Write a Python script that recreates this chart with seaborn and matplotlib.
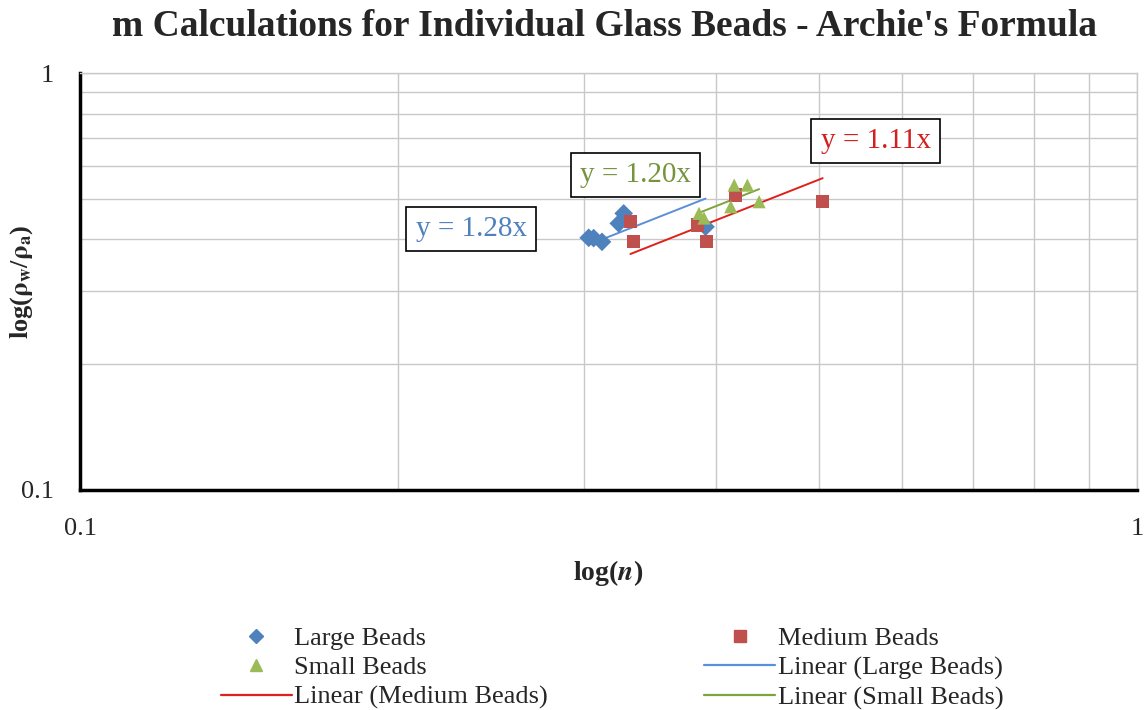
import numpy as np
import pandas as pd
import matplotlib
matplotlib.use("Agg")
import matplotlib.pyplot as plt
from matplotlib.lines import Line2D
import seaborn as sns

# data (log-log axes)
large_n = [0.3029, 0.3062, 0.3118, 0.3234, 0.3269, 0.3907]
large_r = [0.4027, 0.4020, 0.3938, 0.4360, 0.4608, 0.4279]
medium_n = [0.3317, 0.3341, 0.3837, 0.3914, 0.4173, 0.5043]
medium_r = [0.4398, 0.3938, 0.4320, 0.3938, 0.5099, 0.4915]
small_n = [0.3852, 0.3894, 0.4128, 0.4159, 0.4280, 0.4391]
small_r = [0.4608, 0.4491, 0.4780, 0.5387, 0.5387, 0.4915]

series = ["Large Beads", "Medium Beads", "Small Beads"]
slopes = [1.28, 1.11, 1.20]
point_colors = ["#4F81BD", "#C0504D", "#9BBB59"]
line_colors = ["#5B8FD6", "#E0201B", "#7FA33C"]
text_colors = ["#4F81BD", "#D21F1F", "#77933C"]
markers = ["D", "s", "^"]
# equation label centres (data coords)
eq_x = [0.2345, 0.5660, 0.3355]
eq_y = [0.4225, 0.6869, 0.5692]

df = pd.DataFrame({
    "n": large_n + medium_n + small_n,
    "r": large_r + medium_r + small_r,
    "beads": ["Large Beads"] * 6 + ["Medium Beads"] * 6 + ["Small Beads"] * 6,
})

sns.set_style("white")
plt.rcParams["font.family"] = ["Liberation Serif", "DejaVu Serif"]
plt.rcParams["mathtext.fontset"] = "stix"

fig = plt.figure(figsize=(11.45, 7.10), dpi=100)
ax = fig.add_axes([0.0699, 0.3099, 0.923, 0.5871])
ax.set_xscale("log")
ax.set_yscale("log")
ax.set_xlim(0.1, 1)
ax.set_ylim(0.1, 1)

# trendlines (forced through origin, spanning each series' x range)
trend_rows = []
for name, m in zip(series, slopes):
    xs = df.loc[df["beads"] == name, "n"]
    for xv in [xs.min(), xs.max()]:
        trend_rows.append({"n": xv, "r": m * xv, "beads": name})
trend = pd.DataFrame(trend_rows)
sns.lineplot(data=trend, x="n", y="r", hue="beads", palette=dict(zip(series, line_colors)),
             linewidth=1.4, legend=False, ax=ax, zorder=2)

sns.scatterplot(data=df, x="n", y="r", hue="beads", style="beads",
                palette=dict(zip(series, point_colors)),
                markers=dict(zip(series, markers)), s=90, edgecolor="none",
                legend=False, ax=ax, zorder=3)

# grid: minor lines at 0.2 ... 0.9
ax.set_xticks([0.1, 1])
ax.set_yticks([0.1, 1])
ax.set_xticklabels(["0.1", "1"])
ax.set_yticklabels(["0.1", "1"])
minor = [0.2, 0.3, 0.4, 0.5, 0.6, 0.7, 0.8, 0.9]
ax.set_xticks(minor, minor=True)
ax.set_yticks(minor, minor=True)
ax.xaxis.set_minor_formatter(matplotlib.ticker.NullFormatter())
ax.yaxis.set_minor_formatter(matplotlib.ticker.NullFormatter())
ax.grid(True, which="both", color="#C8C8C8", linewidth=1.0)
ax.set_axisbelow(True)
ax.tick_params(which="both", length=0, labelsize=19)
ax.tick_params(axis="x", pad=20)
ax.tick_params(axis="y", pad=19)

for side in ["left", "bottom"]:
    ax.spines[side].set_color("black")
    ax.spines[side].set_linewidth(2.5)
for side in ["top", "right"]:
    ax.spines[side].set_color("#C8C8C8")
    ax.spines[side].set_linewidth(1.0)

ax.set_xlabel(r"log($\mathbfit{n}$)", fontsize=20, fontweight="bold", labelpad=13)
ax.set_ylabel("")
fig.text(0.0192, 0.603, r"log($\mathbf{\rho}_\mathbf{w}$/$\mathbf{\rho}_\mathbf{a}$)",
         rotation=90, ha="center", va="center", fontsize=19, fontweight="bold")
fig.text(0.528, 0.962, "m Calculations for Individual Glass Beads - Archie's Formula",
         ha="center", va="center", fontsize=27, fontweight="bold")

# equation labels
for tx, ty, m, c in zip(eq_x, eq_y, slopes, text_colors):
    ax.text(tx, ty, f"y = {m:.2f}x", color=c, fontsize=21, ha="center", va="center",
            bbox=dict(boxstyle="square,pad=0.32", fc="white", ec="black", lw=1.2), zorder=5)

handles = [
    Line2D([], [], ls="none", marker="D", color=point_colors[0], markersize=7),
    Line2D([], [], ls="none", marker="^", color=point_colors[2], markersize=9),
    Line2D([], [], color=line_colors[1], lw=1.6),
    Line2D([], [], ls="none", marker="s", color=point_colors[1], markersize=9),
    Line2D([], [], color=line_colors[0], lw=1.6),
    Line2D([], [], color=line_colors[2], lw=1.6),
]
labels = ["Large Beads", "Small Beads", "Linear (Medium Beads)",
          "Medium Beads", "Linear (Large Beads)", "Linear (Small Beads)"]
fig.legend(handles, labels, loc="center", bbox_to_anchor=(0.5345, 0.059), ncol=2,
           frameon=False, fontsize=19, columnspacing=5.9, handlelength=2.7,
           handletextpad=0.1, labelspacing=0.23)

fig.savefig("out.png", dpi=100)
